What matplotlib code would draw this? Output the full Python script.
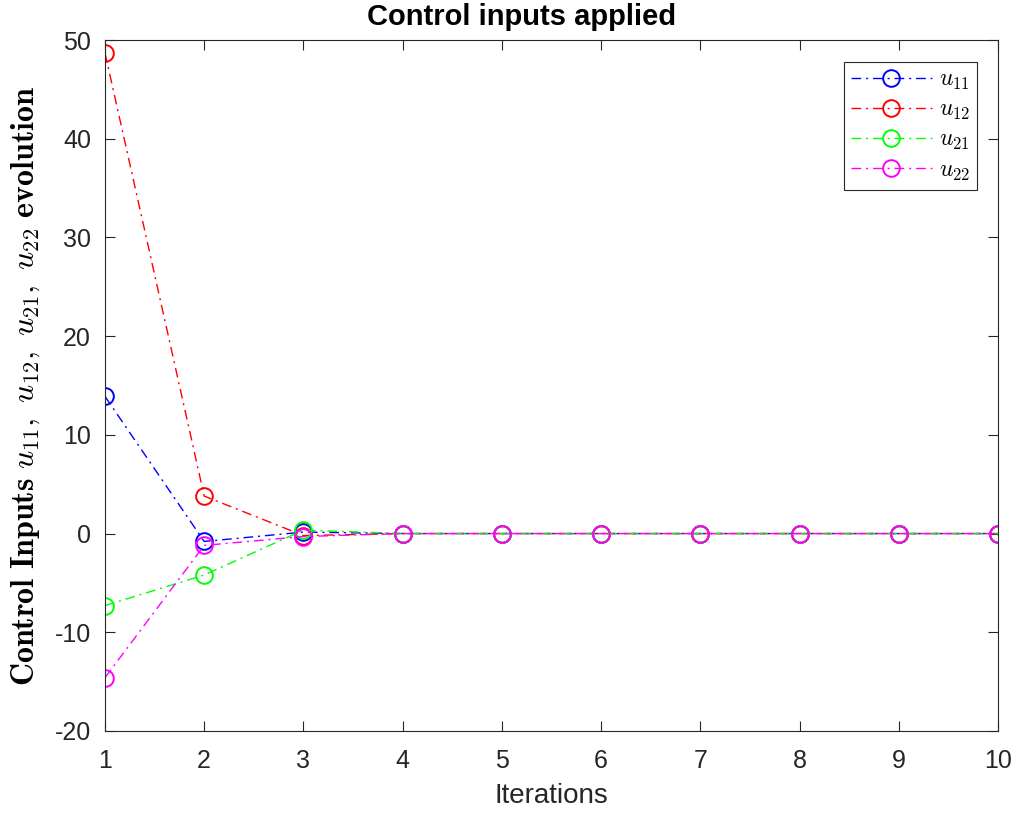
import numpy as np
import matplotlib
matplotlib.use('Agg')
import matplotlib.pyplot as plt

plt.rcParams['font.family'] = ['Liberation Sans', 'DejaVu Sans']
plt.rcParams['mathtext.fontset'] = 'cm'
plt.rcParams['axes.unicode_minus'] = False

iterations = np.arange(1, 11)
u11 = [13.9, -0.8, 0.15, 0.0, 0.0, 0.0, 0.0, 0.0, 0.0, 0.0]
u12 = [48.7, 3.8, -0.2, 0.0, 0.0, 0.0, 0.0, 0.0, 0.0, 0.0]
u21 = [-7.3, -4.2, 0.35, 0.0, 0.0, 0.0, 0.0, 0.0, 0.0, 0.0]
u22 = [-14.6, -1.2, -0.3, 0.0, 0.0, 0.0, 0.0, 0.0, 0.0, 0.0]

series = [(u11, '#0000ff', r'$u_{11}$'),
          (u12, '#ff0000', r'$u_{12}$'),
          (u21, '#00ff00', r'$u_{21}$'),
          (u22, '#ff00ff', r'$u_{22}$')]

fig = plt.figure(figsize=(10.16, 8.15), dpi=100)
ax = fig.add_axes([0.1033, 0.1031, 0.879, 0.8478])

for vals, color, label in series:
    ax.plot(iterations, vals, linestyle='-.', dashes=(7, 3.5, 1.5, 3.5),
            color=color, marker='o', markersize=12, markerfacecolor='none',
            markeredgewidth=1.4, linewidth=1.0, label=label)

ax.set_xlim(1, 10)
ax.set_ylim(-20, 50)
ax.set_xticks(range(1, 11))
ax.set_yticks(range(-20, 51, 10))
ax.tick_params(direction='in', top=True, right=True, labelsize=18,
               length=7, width=0.8, colors='#262626', pad=10)
ax.tick_params(axis='x', pad=13)
for s in ax.spines.values():
    s.set_color('#262626')
    s.set_linewidth(0.8)

ax.set_title('Control inputs applied', fontsize=21, fontweight='bold',
             x=0.467, pad=11)
ax.set_xlabel('Iterations', fontsize=20, color='#262626', labelpad=7)
ax.set_ylabel(r'$\mathbf{Control\ Inputs}\ u_{11},\ u_{12},\ u_{21},\ u_{22}\ \mathbf{evolution}$',
              fontsize=23)
ax.yaxis.set_label_coords(-0.071, 0.5)

leg = ax.legend(loc='upper right', fontsize=17, fancybox=False,
                edgecolor='#262626', framealpha=1, handlelength=3.4,
                handletextpad=0.3, borderpad=0.3, labelspacing=0.3,
                borderaxespad=0, bbox_to_anchor=(0.9765, 0.968))
leg.get_frame().set_linewidth(0.8)

fig.savefig('out.png', dpi=100)
